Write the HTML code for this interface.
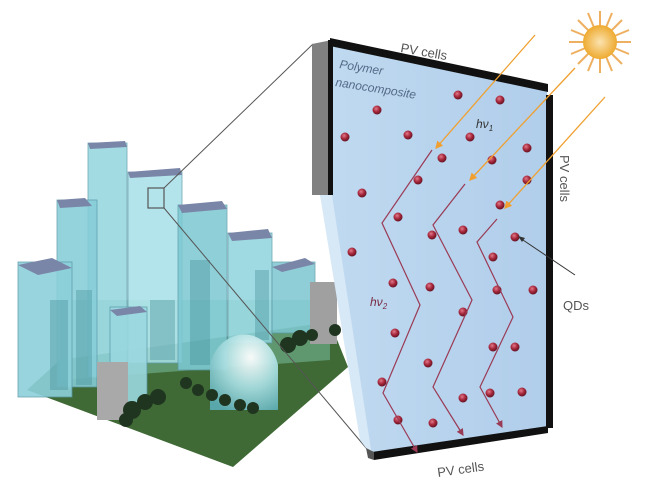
<!DOCTYPE html>
<html><head><meta charset="utf-8"><style>
html,body{margin:0;padding:0;background:#fff;width:653px;height:498px;overflow:hidden}
svg{display:block}
text{font-family:"Liberation Sans",sans-serif}
</style></head><body>
<svg width="653" height="498" viewBox="0 0 653 498" xmlns="http://www.w3.org/2000/svg">
<defs>
<radialGradient id="dot" cx="0.4" cy="0.35" r="0.7">
<stop offset="0" stop-color="#e07a8a"/><stop offset="0.5" stop-color="#a8283c"/><stop offset="1" stop-color="#5a1020"/>
</radialGradient>
<radialGradient id="sun" cx="0.5" cy="0.5" r="0.5">
<stop offset="0" stop-color="#fbe3b0"/><stop offset="1" stop-color="#eeaa30"/>
</radialGradient>
<radialGradient id="dome" cx="0.6" cy="0.3" r="0.8">
<stop offset="0" stop-color="#ffffff"/><stop offset="0.5" stop-color="#a8dde0"/><stop offset="1" stop-color="#5aaab0"/>
</radialGradient>
<linearGradient id="panel" x1="0" y1="0" x2="1" y2="0">
<stop offset="0" stop-color="#c0daf0"/><stop offset="1" stop-color="#b0cdea"/>
</linearGradient>
<marker id="ah" markerWidth="6" markerHeight="6" refX="5" refY="3" orient="auto"><path d="M0,0 L6,3 L0,6 z" fill="#9a3a55"/></marker>
<marker id="ao" markerWidth="6" markerHeight="6" refX="5" refY="3" orient="auto"><path d="M0,0 L6,3 L0,6 z" fill="#f0a030"/></marker>
</defs>

<polygon points="27,390 233,467 348,367 330,322 60,360" fill="#3f6a35"/>
<polygon points="60,300 330,300 330,360 60,380" fill="#7fc4a8" opacity="0.5"/>
<g stroke="#5a9aa8" stroke-width="0.8">
<rect x="228" y="233" width="44" height="110" fill="#8fd3dc" opacity="0.85"/>
<rect x="272" y="262" width="43" height="71" fill="#7cc6d0" opacity="0.85"/>
<rect x="88" y="143" width="39" height="234" fill="#92d5de" opacity="0.85"/>
<rect x="128" y="172" width="54" height="191" fill="#a8e0e8" opacity="0.85"/>
<rect x="178" y="205" width="49" height="165" fill="#7cc8d2" opacity="0.85"/>
<rect x="57" y="200" width="40" height="187" fill="#86cdd8" opacity="0.88"/>
<rect x="18" y="262" width="54" height="135" fill="#8cd0da" opacity="0.9"/>
<rect x="110" y="307" width="37" height="96" fill="#9ad8e0" opacity="0.9"/>
</g>
<g fill="#3d8a94" opacity="0.35">
<rect x="50" y="300" width="18" height="90"/>
<rect x="76" y="290" width="16" height="95"/>
<rect x="190" y="260" width="20" height="105"/>
<rect x="150" y="300" width="25" height="60"/>
<rect x="255" y="270" width="14" height="70"/>
</g>
<g fill="#7a86a8">
<polygon points="88,143 125,141 127,147 90,149"/>
<polygon points="128,172 180,168 182,175 130,178"/>
<polygon points="178,205 222,201 227,209 182,213"/>
<polygon points="57,200 85,198 92,206 60,208"/>
<polygon points="18,265 52,258 72,268 38,275"/>
<polygon points="228,233 268,229 272,238 232,241"/>
<polygon points="272,267 305,258 315,264 282,272"/>
<polygon points="110,310 140,306 147,312 117,316"/>
</g>
<rect x="97" y="362" width="31" height="58" fill="#a9a9a9"/>
<rect x="310" y="282" width="27" height="62" fill="#a0a0a0"/>
<path d="M210,410 L210,365 A35,40 0 0 1 278,365 L278,410 Z" fill="url(#dome)" opacity="0.95"/>
<g fill="#1f3520">
<circle cx="132" cy="410" r="9"/><circle cx="145" cy="402" r="8"/><circle cx="158" cy="397" r="8"/><circle cx="126" cy="420" r="7"/>
<circle cx="186" cy="383" r="6"/><circle cx="198" cy="390" r="6"/><circle cx="212" cy="395" r="6"/><circle cx="225" cy="400" r="6"/><circle cx="240" cy="405" r="6"/><circle cx="253" cy="408" r="6"/>
<circle cx="288" cy="345" r="8"/><circle cx="300" cy="338" r="8"/><circle cx="312" cy="335" r="6"/><circle cx="335" cy="330" r="6"/>
</g>
<rect x="148" y="188" width="16" height="20" fill="none" stroke="#555" stroke-width="1.2"/>
<line x1="164" y1="188" x2="313" y2="44" stroke="#555" stroke-width="1"/>
<line x1="164" y1="208" x2="372" y2="455" stroke="#555" stroke-width="1"/>

<polygon points="332,44 547,88 550,428 372,456 320,195 332,195" fill="url(#panel)"/>
<polygon points="320,195 332,195 372,456 360,440" fill="#d7e8f6"/>
<polygon points="312,44 332,40 332,195 312,195" fill="#808080"/>
<rect x="328" y="40" width="5" height="155" fill="#111"/>
<polygon points="330,38 548,84 548,92 330,46" fill="#111"/>
<rect x="546" y="95" width="7" height="333" fill="#111"/>
<polygon points="372,452 548,426 548,433 374,460" fill="#111"/>
<polygon points="366,448 374,452 374,460 368,458" fill="#555"/>

<g fill="url(#dot)">
<circle cx="458" cy="95" r="4.5"/><circle cx="500" cy="100" r="4.5"/><circle cx="377" cy="110" r="4.5"/><circle cx="345" cy="137" r="4.5"/>
<circle cx="408" cy="135" r="4.5"/><circle cx="470" cy="137" r="4.5"/><circle cx="527" cy="148" r="4.5"/><circle cx="442" cy="158" r="4.5"/>
<circle cx="492" cy="160" r="4.5"/><circle cx="418" cy="180" r="4.5"/><circle cx="527" cy="180" r="4.5"/><circle cx="362" cy="193" r="4.5"/>
<circle cx="500" cy="205" r="4.5"/><circle cx="398" cy="217" r="4.5"/><circle cx="463" cy="230" r="4.5"/><circle cx="432" cy="235" r="4.5"/>
<circle cx="515" cy="237" r="4.5"/><circle cx="352" cy="252" r="4.5"/><circle cx="493" cy="257" r="4.5"/><circle cx="393" cy="283" r="4.5"/>
<circle cx="430" cy="287" r="4.5"/><circle cx="497" cy="290" r="4.5"/><circle cx="533" cy="290" r="4.5"/><circle cx="463" cy="312" r="4.5"/>
<circle cx="395" cy="333" r="4.5"/><circle cx="493" cy="347" r="4.5"/><circle cx="515" cy="347" r="4.5"/><circle cx="428" cy="363" r="4.5"/>
<circle cx="382" cy="382" r="4.5"/><circle cx="522" cy="392" r="4.5"/><circle cx="490" cy="393" r="4.5"/><circle cx="463" cy="398" r="4.5"/>
<circle cx="398" cy="420" r="4.5"/><circle cx="433" cy="423" r="4.5"/>
</g>

<g fill="none" stroke="#9a3a55" stroke-width="1.2" marker-end="url(#ah)">
<polyline points="432,150 382,223 420,305 383,393 417,452"/>
<polyline points="465,184 433,225 472,300 433,387 463,435"/>
<polyline points="497,219 477,242 513,317 480,387 502,427"/>
</g>
<g stroke="#f0a030" stroke-width="1.3" marker-end="url(#ao)">
<line x1="535" y1="35" x2="436" y2="148"/>
<line x1="575" y1="68" x2="470" y2="180"/>
<line x1="605" y1="97" x2="505" y2="208"/>
</g>
<line x1="575" y1="275" x2="520" y2="238" stroke="#333" stroke-width="1"/>
<path d="M518,236 L525,238 L522,242 z" fill="#333"/>

<g stroke="#eeb060" stroke-width="2">
<line x1="600" y1="11" x2="600" y2="73"/><line x1="569" y1="42" x2="631" y2="42"/>
<line x1="578" y1="20" x2="622" y2="64"/><line x1="578" y1="64" x2="622" y2="20"/>
<line x1="588" y1="13" x2="612" y2="71"/><line x1="612" y1="13" x2="588" y2="71"/>
<line x1="571" y1="30" x2="629" y2="54"/><line x1="571" y1="54" x2="629" y2="30"/>
</g>
<circle cx="600" cy="42" r="17" fill="url(#sun)"/>

<text x="400" y="52" font-size="13" fill="#555" transform="rotate(10 400 52)">PV cells</text>
<text x="339" y="68" font-size="12" font-style="italic" fill="#556a88" transform="rotate(9 339 68)">Polymer</text>
<text x="335" y="86" font-size="12" font-style="italic" fill="#556a88" transform="rotate(9 335 86)">nanocomposite</text>
<text x="476" y="128" font-size="12" font-style="italic" fill="#333">hν<tspan font-size="8" dy="3">1</tspan></text>
<text x="370" y="306" font-size="12" font-style="italic" fill="#7a2a45">hν<tspan font-size="8" dy="3">2</tspan></text>
<text x="560" y="155" font-size="13" fill="#555" transform="rotate(90 560 155)">PV cells</text>
<text x="563" y="310" font-size="13" fill="#555">QDs</text>
<text x="438" y="477" font-size="13" fill="#555" transform="rotate(-8 438 477)">PV cells</text>
</svg>
</body></html>
